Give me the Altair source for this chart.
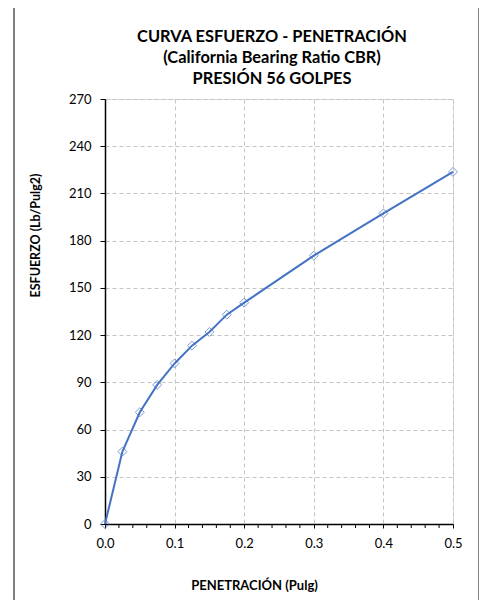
import altair as alt
import pandas as pd

# Data
penetracion = [0.0, 0.025, 0.05, 0.075, 0.1, 0.125, 0.15, 0.175, 0.2, 0.3, 0.4, 0.5]
esfuerzo = [0.0, 46.0, 71.0, 88.4, 102.0, 113.3, 122.0, 133.0, 140.6, 170.5, 197.3, 223.7]

x_major = [0.0, 0.1, 0.2, 0.3, 0.4, 0.5]
x_minor = [0.02, 0.04, 0.06, 0.08, 0.12, 0.14, 0.16, 0.18, 0.22, 0.24, 0.26, 0.28,
           0.32, 0.34, 0.36, 0.38, 0.42, 0.44, 0.46, 0.48]
y_ticks = [0, 30, 60, 90, 120, 150, 180, 210, 240, 270]

title_lines = ["CURVA ESFUERZO - PENETRACIÓN", "(California Bearing Ratio CBR)", "PRESIÓN 56 GOLPES"]
x_title = "PENETRACIÓN (Pulg)"
y_title = "ESFUERZO (Lb/Pulg2)"

df = pd.DataFrame({"pen": penetracion, "esf": esfuerzo})
minor_df = pd.DataFrame({"pen": x_minor})

FONT = "Lato"
BLUE = "#4472C4"
GRID = "#c4c4c4"

x_scale = alt.Scale(domain=[0, 0.5], nice=False, zero=True)
y_scale = alt.Scale(domain=[0, 270], nice=False)

x_enc = alt.X(
    "pen:Q",
    scale=x_scale,
    axis=alt.Axis(
        values=x_major,
        format=".1f",
        title=x_title,
        titleFont=FONT, titleFontSize=13, titleFontWeight="bold", titleColor="#000",
        titleX=149, titleY=61, titleBaseline="middle", titleAnchor="start", titleAlign="center",
        labelFont=FONT, labelFontSize=13, labelColor="#000", labelPadding=9,
        labelFlush=False,
        tickSize=4, tickColor="#000", tickWidth=1,
        domainColor="#000", domainWidth=1.5,
        grid=True, gridColor=GRID, gridDash=[4, 3], gridWidth=1,
    ),
)
y_enc = alt.Y(
    "esf:Q",
    scale=y_scale,
    axis=alt.Axis(
        values=y_ticks,
        format="d",
        title=y_title,
        titleFont=FONT, titleFontSize=12.5, titleFontWeight="bold", titleColor="#000",
        titleX=-70, titleY=136, titleBaseline="middle", titleAlign="center", titleAngle=270,
        labelFont=FONT, labelFontSize=13, labelColor="#000", labelPadding=9,
        tickSize=5, tickColor="#000", tickWidth=1,
        domainColor="#000", domainWidth=1.5,
        grid=True, gridColor=GRID, gridDash=[4, 3], gridWidth=1,
    ),
)

base = alt.Chart(df)

line = base.mark_line(color=BLUE, strokeWidth=2).encode(x=x_enc, y=y_enc)
pts = base.mark_point(shape="diamond", filled=False, color=BLUE, size=80, strokeWidth=1).encode(
    x="pen:Q", y="esf:Q"
)

minor_ticks = alt.Chart(minor_df).mark_rule(color="#000", strokeWidth=1).encode(
    x=alt.X("pen:Q", scale=x_scale), y=alt.value(425), y2=alt.value(429)
)

border = alt.Chart(pd.DataFrame({"a": [0]})).mark_rect(
    fill=None, stroke="#000", strokeWidth=1
).encode(
    x=alt.value(-91), x2=alt.value(374), y=alt.value(-95), y2=alt.value(520)
)

chart = alt.layer(border, minor_ticks, line, pts).properties(
    width=348,
    height=425,
    padding={"left": 97, "top": 91, "right": 26, "bottom": 76},
    autosize=alt.AutoSizeParams(type="none"),
    title=alt.TitleParams(
        text=title_lines,
        font=FONT, fontSize=16.4, fontWeight="bold", color="#000",
        anchor="middle", frame="group", offset=12, lineHeight=21, dx=-7, dy=96,
    ),
).configure_view(stroke="#000", strokeWidth=1.5).configure(background="white")

chart.save("out.html", embed_options={"renderer": "svg", "actions": False})
